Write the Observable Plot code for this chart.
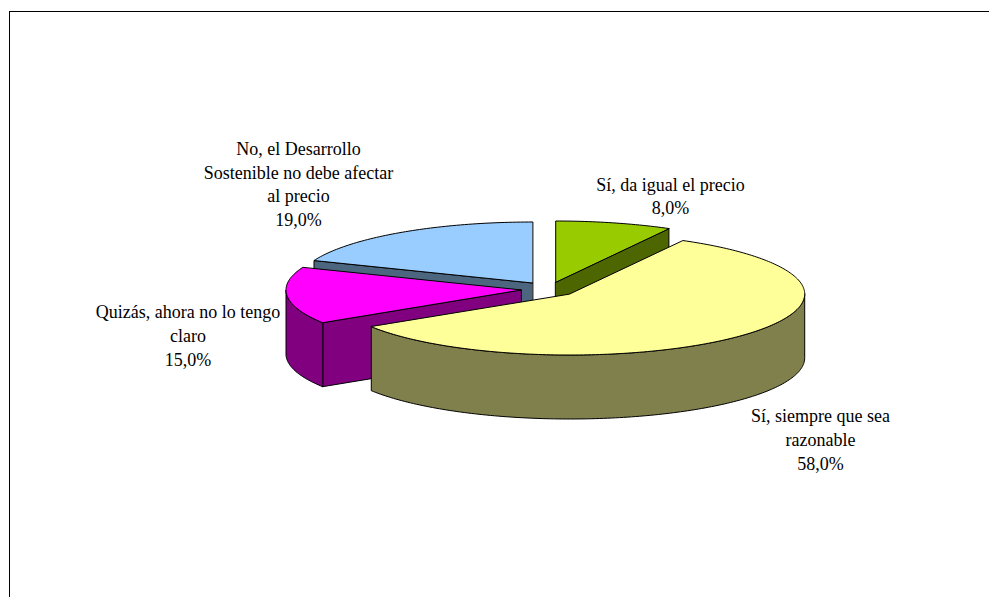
<!DOCTYPE html>
<html>
<head>
<meta charset="utf-8">
<style>html,body{margin:0;padding:0;background:#fff}svg{display:block}</style>
<script src="https://cdn.jsdelivr.net/npm/d3@7"></script>
<script src="https://cdn.jsdelivr.net/npm/@observablehq/plot@0.6"></script>
</head>
<body>
<script>
// data, clockwise from 12 o'clock
const categories = ["Sí, da igual el precio", "Sí, siempre que sea razonable", "Quizás, ahora no lo tengo claro", "No, el Desarrollo Sostenible no debe afectar al precio"];
const shares = [8, 58, 15, 19];
const labelLines = ["Sí, da igual el precio", "Sí, siempre que sea\nrazonable", "Quizás, ahora no lo tengo\nclaro", "No, el Desarrollo\nSostenible no debe afectar\nal precio"];
const topColors = ["#99CC00", "#FFFF99", "#FF00FF", "#99CCFF"];
const wallColors = ["#4D6600", "#80804D", "#800080", "#4D6680"];

// layout of the 3D pie
const rx = 235, ry = 61, depth = 64;
const centers = [[555.2, 281.5], [569.2, 293.5], [520.5, 289.5], [532, 282.5]];
const labelAnchors = [[670, 194.5], [820, 437.8], [187.5, 334], [298, 182.5]];
const paintOrder = [3, 0, 2, 1];

let acc = 0;
const spans = shares.map(v => { const a0 = acc / 100 * 360; acc += v; return [a0, acc / 100 * 360]; });
const pt = (i, deg, dz = 0) => {
  const t = deg * Math.PI / 180;
  return [centers[i][0] + rx * Math.sin(t), centers[i][1] - ry * Math.cos(t) + dz];
};
const arc = (i, a, b) => {
  const n = Math.max(2, Math.ceil(Math.abs(b - a)));
  return d3.range(n + 1).map(k => pt(i, a + (b - a) * k / n));
};

const polys = [];
const add = (pts, fill) => {
  const id = polys.length ? polys[polys.length - 1].id + 1 : 0;
  pts.forEach(p => polys.push({id, x: p[0], y: p[1], fill}));
};
const wall = (edge, fill) => add([...edge, ...edge.slice().reverse().map(p => [p[0], p[1] + depth])], fill);

for (const i of paintOrder) {
  const [a, b] = spans[i];
  const c = centers[i];
  // radial cut face that looks towards the viewer
  if (i === 0) wall([c, pt(i, b)], wallColors[i]);
  if (i === 2 || i === 3) wall([c, pt(i, a)], wallColors[i]);
  // outer rim wall: front half only (90°..270°)
  const lo = Math.max(a, 90), hi = Math.min(b, 270);
  if (hi > lo) wall(arc(i, lo, hi), wallColors[i]);
  // top face
  add([c, ...arc(i, a, b)], topColors[i]);
}

const labels = categories.map((c, i) => ({
  x: labelAnchors[i][0],
  y: labelAnchors[i][1],
  text: labelLines[i] + "\n" + shares[i].toFixed(1).replace(".", ",") + "%"
}));

const chart = Plot.plot({
  width: 989, height: 597,
  margin: 0,
  x: {domain: [0, 989], range: [0, 989], axis: null},
  y: {domain: [0, 597], range: [0, 597], axis: null},
  style: {background: "#fff"},
  marks: [
    Plot.ruleY([11], {x1: 9, x2: 989, stroke: "#000", strokeWidth: 1}),
    Plot.ruleX([9], {y1: 11, y2: 597, stroke: "#000", strokeWidth: 1}),
    Plot.line(polys, {x: "x", y: "y", z: "id", fill: "fill", stroke: "#000", strokeWidth: 1, curve: "linear-closed", strokeLinejoin: "round"}),
    Plot.text(labels, {x: "x", y: "y", text: "text", textAnchor: "middle", lineAnchor: "middle", lineHeight: 1.32, fontSize: 18, fontFamily: "Liberation Serif", fill: "#000"})
  ]
});
document.body.appendChild(chart);
</script>
</body>
</html>
